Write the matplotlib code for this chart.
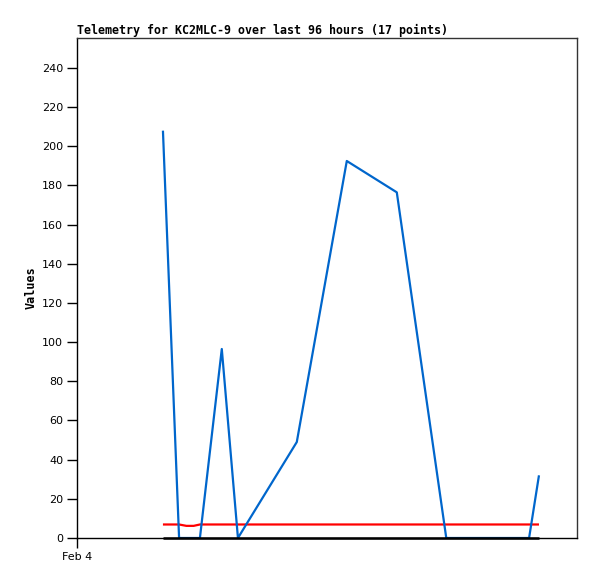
import numpy as np
import matplotlib
matplotlib.use('Agg')
import matplotlib.pyplot as plt

# hours since Feb 4 00:00
hours = [16.5, 19.6, 21.0, 22.4, 23.6, 27.8, 30.9, 42.2, 51.8, 61.4, 70.9, 86.8, 88.7]
blue_vals = [208, 0, 0, 0, 0, 96.5, 0, 49, 192.5, 176.5, 0, 0, 32]
red_vals = [6.9, 6.9, 6.2, 6.2, 6.9, 6.9, 6.9, 6.9, 6.9, 6.9, 6.9, 6.9, 6.9]
black_vals = [0, 0, 0, 0, 0, 0, 0, 0, 0, 0, 0, 0, 0]
yticks = list(range(0, 241, 20))
xtick_labels = ["Feb 4"]

fig = plt.figure(figsize=(5.97, 5.79), dpi=100)
ax = fig.add_axes([77/597, 41/579, 500/597, 500/579])

ax.plot(hours, red_vals, color='#ff0000', lw=1.6, solid_capstyle='butt')
ax.plot(hours, blue_vals, color='#0066cc', lw=1.6, solid_capstyle='butt')
ax.plot(hours, black_vals, color='black', lw=1.8, solid_capstyle='butt', clip_on=False)

ax.set_xlim(0, 96)
ax.set_ylim(0, 255.3)
ax.set_yticks(yticks)
ax.set_xticks([0])
ax.set_xticklabels(xtick_labels)
ax.tick_params(direction='out', length=7, width=1, labelsize=8, pad=3)
for s in ax.spines.values():
    s.set_linewidth(1)
    s.set_color('#333333')
ax.spines['bottom'].set_color('black')
ax.spines['left'].set_color('black')

ax.set_ylabel("Values", family='DejaVu Sans Mono', fontweight='bold', fontsize=8.5, labelpad=3)
ax.set_title("Telemetry for KC2MLC-9 over last 96 hours (17 points)", loc='left',
             family='DejaVu Sans Mono', fontweight='bold', fontsize=8.4, pad=3)

fig.savefig('out.png', dpi=100)
